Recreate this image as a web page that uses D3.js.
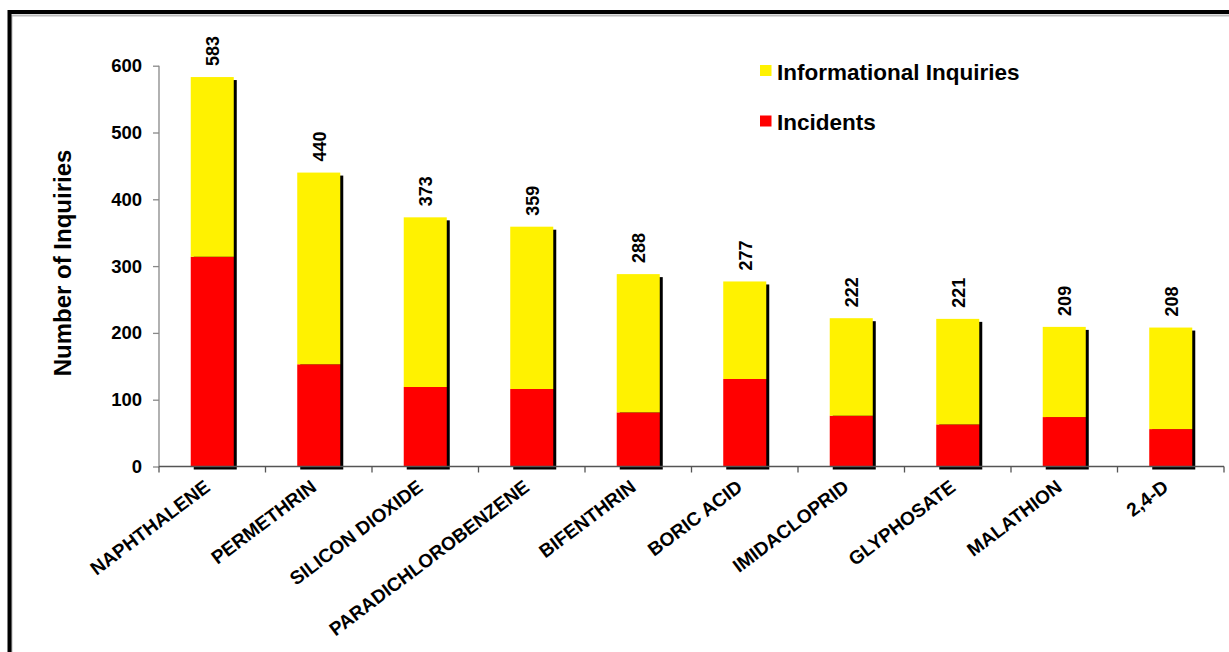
<!DOCTYPE html>
<html>
<head>
<meta charset="utf-8">
<script src="https://cdn.jsdelivr.net/npm/d3@7"></script>
<style>
  html, body { margin: 0; padding: 0; background: #fff; }
  svg { display: block; font-family: "Liberation Sans", Arial, sans-serif; font-weight: bold; }
</style>
</head>
<body>
<svg id="chart" width="1229" height="652"></svg>
<script>
const categories = ["NAPHTHALENE", "PERMETHRIN", "SILICON DIOXIDE", "PARADICHLOROBENZENE", "BIFENTHRIN", "BORIC ACID", "IMIDACLOPRID", "GLYPHOSATE", "MALATHION", "2,4-D"];
const totals = [583, 440, 373, 359, 288, 277, 222, 221, 209, 208];
const incidents = [314, 153, 119, 116, 81, 131, 76, 63, 74, 56];
const seriesNames = ["Informational Inquiries", "Incidents"];
const seriesColors = ["#FFF200", "#FF0000"];
const yTicks = [0, 100, 200, 300, 400, 500, 600];

const svg = d3.select("#chart");

// frame (top and left borders)
svg.append("path").attr("d", "M11.5,652 V15.5 H1229").attr("fill", "none").attr("stroke", "#bbb").attr("stroke-width", 2);
svg.append("path").attr("d", "M9.5,652 V12 H1229").attr("fill", "none").attr("stroke", "#000").attr("stroke-width", 4);

const pad = 0.596;
const x = d3.scaleBand().domain(categories).range([159, 1224]).paddingInner(pad).paddingOuter(pad / 2);
const y = d3.scaleLinear().domain([0, 600]).range([466.5, 65.7]);

const data = categories.map((c, i) => ({ cat: c, total: totals[i], inc: incidents[i], info: totals[i] - incidents[i] }));

// shadows
svg.append("g").selectAll("rect").data(data).join("rect")
  .attr("x", d => x(d.cat) + 3)
  .attr("y", d => y(d.total) + 3)
  .attr("width", x.bandwidth())
  .attr("height", d => y(0) - y(d.total))
  .attr("fill", "#000");

// y axis
const yAxis = svg.append("g").attr("transform", "translate(159,0)")
  .call(d3.axisLeft(y).tickValues(yTicks).tickSize(6).tickPadding(11));
yAxis.select(".domain").attr("stroke", "#888").attr("stroke-width", 1.3).attr("d", "M0,65.7V466.5");
yAxis.selectAll(".tick line").attr("stroke", "#888").attr("stroke-width", 1.3);
yAxis.selectAll(".tick text").attr("font-size", 18.5).attr("font-weight", "bold").attr("fill", "#000")
  .attr("font-family", "Liberation Sans, Arial, sans-serif");

// stacked bars
const stack = svg.append("g");
stack.selectAll("rect.inc").data(data).join("rect").attr("class", "inc")
  .attr("x", d => x(d.cat)).attr("width", x.bandwidth())
  .attr("y", d => y(d.inc)).attr("height", d => y(0) - y(d.inc))
  .attr("fill", seriesColors[1]);
stack.selectAll("rect.info").data(data).join("rect").attr("class", "info")
  .attr("x", d => x(d.cat)).attr("width", x.bandwidth())
  .attr("y", d => y(d.total)).attr("height", d => y(d.inc) - y(d.total))
  .attr("fill", seriesColors[0]);

// x axis
const bounds = categories.map(c => x(c) - (x.step() - x.bandwidth()) / 2).concat([1224]);
const xg = svg.append("g");
xg.append("line").attr("x1", 159).attr("x2", 1224).attr("y1", y(0)).attr("y2", y(0))
  .attr("stroke", "#555").attr("stroke-width", 1.5);
xg.selectAll("line.t").data(bounds).join("line").attr("class", "t")
  .attr("x1", d => d).attr("x2", d => d).attr("y1", y(0)).attr("y2", y(0) + 6)
  .attr("stroke", "#555").attr("stroke-width", 1.3);
xg.selectAll("text").data(categories).join("text")
  .attr("transform", d => `translate(${x(d) + x.bandwidth() / 2 - 1},${y(0) + 23}) rotate(-37)`)
  .attr("text-anchor", "end")
  .attr("font-size", 19)
  .attr("fill", "#000")
  .text(d => d);

// value labels
svg.append("g").selectAll("text").data(data).join("text")
  .attr("transform", d => `translate(${x(d.cat) + x.bandwidth() / 2 + 7},${y(d.total) - 11}) rotate(-90)`)
  .attr("text-anchor", "start")
  .attr("font-size", 18)
  .attr("fill", "#000")
  .text(d => d.total);

// y title
svg.append("text")
  .attr("transform", "translate(71,263) rotate(-90)")
  .attr("text-anchor", "middle")
  .attr("font-size", 24)
  .attr("fill", "#000")
  .text("Number of Inquiries");

// legend
const leg = svg.append("g");
seriesNames.forEach((name, i) => {
  const ly = 65 + i * 50.5;
  leg.append("rect").attr("x", 760).attr("y", ly).attr("width", 11.5).attr("height", 11).attr("fill", seriesColors[i]);
  leg.append("text").attr("x", 777).attr("y", ly + 14.5).attr("font-size", 22.5).attr("fill", "#000").text(name);
});
</script>
</body>
</html>
